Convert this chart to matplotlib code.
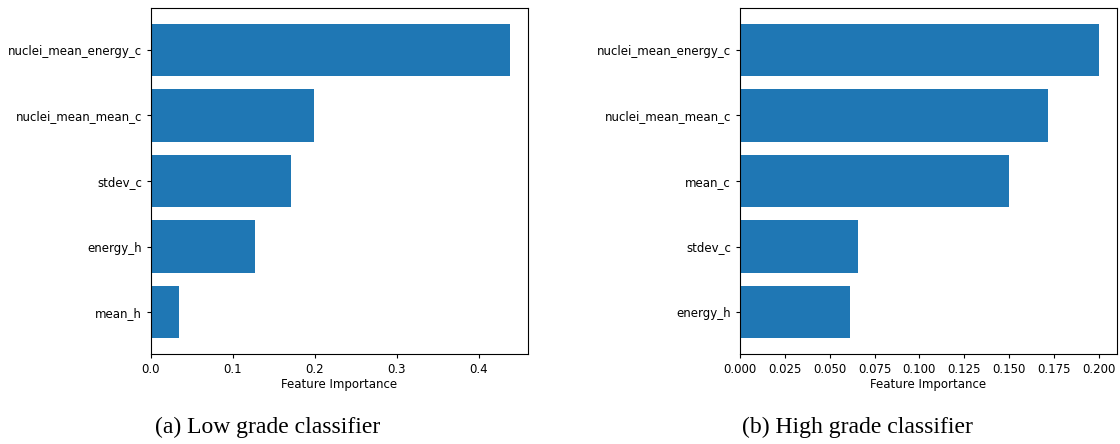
import matplotlib
matplotlib.use("Agg")
import matplotlib.pyplot as plt

# Feature importances, listed top to bottom
low_features = ["nuclei_mean_energy_c", "nuclei_mean_mean_c", "stdev_c", "energy_h", "mean_h"]
low_importance = [0.438, 0.199, 0.171, 0.127, 0.034]

high_features = ["nuclei_mean_energy_c", "nuclei_mean_mean_c", "mean_c", "stdev_c", "energy_h"]
high_importance = [0.2002, 0.1718, 0.1500, 0.0657, 0.0612]

captions = ["(a) Low grade classifier", "(b) High grade classifier"]

fig = plt.figure(figsize=(11.2, 4.44), dpi=100)
ax1 = fig.add_axes([151 / 1120, 1 - 354 / 444, 377 / 1120, 346 / 444])
ax2 = fig.add_axes([740 / 1120, 1 - 354 / 444, 377 / 1120, 346 / 444])

for ax, feats, vals in [(ax1, low_features, low_importance), (ax2, high_features, high_importance)]:
    ax.barh(feats[::-1], vals[::-1], color="#1f77b4")
    ax.set_xlabel("Feature Importance", fontsize=8.5, labelpad=1.5)
    ax.tick_params(labelsize=8.5, length=3)

ax2.set_xticks([0.0, 0.025, 0.05, 0.075, 0.1, 0.125, 0.15, 0.175, 0.2])
ax2.set_xticklabels([f"{t:.3f}" for t in ax2.get_xticks()])

fig.text(268 / 1120, 1 - 427 / 444, captions[0], ha="center", va="center",
         family="Liberation Serif", fontsize=17)
fig.text(857 / 1120, 1 - 427 / 444, captions[1], ha="center", va="center",
         family="Liberation Serif", fontsize=17)

fig.savefig("out.png", dpi=100)
